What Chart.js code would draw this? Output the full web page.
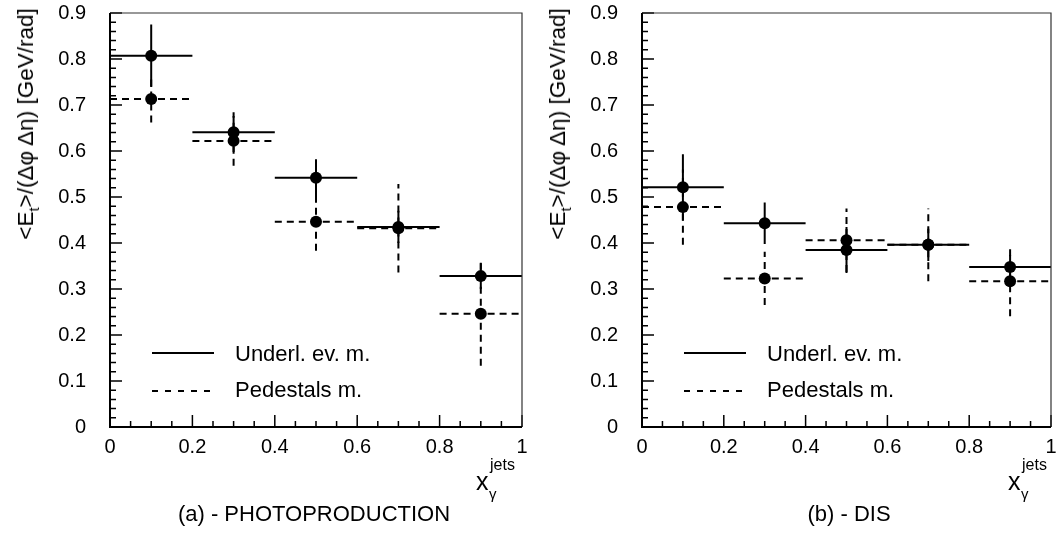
<!DOCTYPE html>
<html>
<head>
<meta charset="utf-8">
<script src="https://cdn.jsdelivr.net/npm/chart.js@4.4.1/dist/chart.umd.min.js"></script>
<style>
  body { margin: 0; background: #fff; font-family: "Liberation Sans", Arial, sans-serif; color: #000; }
  #wrap { position: relative; width: 1057px; height: 534px; overflow: hidden; }
  canvas { position: absolute; top: 0; }
  .ytitle { position: absolute; font-size: 22.5px; line-height: 1; white-space: nowrap;
            transform: translate(-50%, -50%) rotate(-90deg); }
  .ytitle sub { font-size: 15px; vertical-align: -6px; line-height: 1; }
  .t { position: absolute; line-height: 1; white-space: nowrap; }
  .caption { position: absolute; font-size: 22px; line-height: 1; white-space: nowrap; transform: translateX(-50%); }
</style>
</head>
<body>
<div id="wrap">
  <canvas id="photoChart" width="530" height="534" style="left:0"></canvas>
  <canvas id="disChart" width="527" height="534" style="left:530px"></canvas>

  <div class="ytitle" style="left:28px; top:124px">&lt;E<sub>t</sub>&gt;/(&Delta;&phi; &Delta;&eta;) [GeV/rad]</div>
  <div class="ytitle" style="left:560px; top:124px">&lt;E<sub>t</sub>&gt;/(&Delta;&phi; &Delta;&eta;) [GeV/rad]</div>

  <div class="t" style="left:476px; top:469px; font-size:25px">x</div>
  <div class="t" style="left:490px; top:457px; font-size:16px">jets</div>
  <div class="t" style="left:489px; top:486px; font-size:15px">&gamma;</div>

  <div class="t" style="left:1008px; top:469px; font-size:25px">x</div>
  <div class="t" style="left:1022px; top:457px; font-size:16px">jets</div>
  <div class="t" style="left:1021px; top:486px; font-size:15px">&gamma;</div>

  <div class="caption" style="left:314px; top:503px">(a) - PHOTOPRODUCTION</div>
  <div class="caption" style="left:849px; top:503px">(b) - DIS</div>
</div>

<script>
// bins in x_gamma^jets
const binLo = [0.0, 0.2, 0.4, 0.6, 0.8];
const binHi = [0.2, 0.4, 0.6, 0.8, 1.0];
const xMid = [0.1, 0.3, 0.5, 0.7, 0.9];

// (a) photoproduction
const uePhoto = [0.807, 0.641, 0.542, 0.435, 0.328];
const ueErrPhoto = [0.068, 0.043, 0.040, 0.035, 0.028];
const pedPhoto = [0.713, 0.622, 0.446, 0.432, 0.246];
const pedErrPhoto = [0.051, 0.054, 0.063, 0.096, 0.113];

// (b) DIS
const ueDis = [0.521, 0.443, 0.385, 0.396, 0.348];
const ueErrDis = [0.072, 0.045, 0.050, 0.035, 0.026];
const pedDis = [0.478, 0.323, 0.406, 0.396, 0.317];
const pedErrDis = [0.082, 0.058, 0.069, 0.079, 0.076];

const legendLabels = ['Underl. ev. m.', 'Pedestals m.'];

// axis ranges / tick steps
const yMax = 0.9, yStep = 0.1, yMinor = 0.02;
const xMax = 1, xStep = 0.2, xMinor = 0.05;

const FONT = '"Liberation Sans", Arial, sans-serif';
const DASH = [7, 5];

function markers(vals) {
  return vals.map((v, i) => ({ x: xMid[i], y: v }));
}

// horizontal bin-width bars, separated by gaps
function hBars(vals) {
  const pts = [];
  vals.forEach((v, i) => {
    pts.push({ x: binLo[i], y: v }, { x: binHi[i], y: v }, { x: binHi[i], y: null });
  });
  return pts;
}

// vertical error bars
function vBars(vals, errs) {
  const pts = [];
  vals.forEach((v, i) => {
    pts.push({ x: xMid[i], y: v - errs[i] }, { x: xMid[i], y: v + errs[i] }, { x: xMid[i], y: null });
  });
  return pts;
}

// frame plus inward ticks, like the paw style plot
const frameTicks = {
  id: 'frameTicks',
  afterDatasetsDraw(chart) {
    const { ctx, chartArea: a, scales: { x, y } } = chart;
    ctx.save();
    ctx.strokeStyle = '#000';
    ctx.lineWidth = 1.5;
    ctx.beginPath();
    const ny = Math.round(yMax / yMinor);
    for (let i = 0; i <= ny; i++) {
      const py = y.getPixelForValue(i * yMinor);
      const len = i % Math.round(yStep / yMinor) === 0 ? 12 : 6;
      ctx.moveTo(a.left, py);
      ctx.lineTo(a.left + len, py);
    }
    const nx = Math.round(xMax / xMinor);
    for (let i = 0; i <= nx; i++) {
      const px = x.getPixelForValue(i * xMinor);
      const len = i % Math.round(xStep / xMinor) === 0 ? 12 : 6;
      ctx.moveTo(px, a.bottom);
      ctx.lineTo(px, a.bottom - len);
    }
    ctx.stroke();

    // thin top / right
    ctx.lineWidth = 1.2;
    ctx.strokeStyle = '#333';
    ctx.beginPath();
    ctx.moveTo(a.left, a.top);
    ctx.lineTo(a.right, a.top);
    ctx.lineTo(a.right, a.bottom);
    ctx.stroke();

    // thicker left / bottom
    ctx.lineWidth = 2;
    ctx.strokeStyle = '#000';
    ctx.beginPath();
    ctx.moveTo(a.left, a.top);
    ctx.lineTo(a.left, a.bottom);
    ctx.lineTo(a.right, a.bottom);
    ctx.stroke();
    ctx.restore();
  }
};

// legend drawn inside the plot area
const inLegend = {
  id: 'inLegend',
  afterDatasetsDraw(chart) {
    const { ctx, chartArea: a } = chart;
    const rows = [353, 391];
    ctx.save();
    ctx.strokeStyle = '#000';
    ctx.lineWidth = 2;
    legendLabels.forEach((lbl, i) => {
      ctx.setLineDash(i === 0 ? [] : [6, 7]);
      ctx.beginPath();
      ctx.moveTo(a.left + 42, rows[i]);
      ctx.lineTo(a.left + 104, rows[i]);
      ctx.stroke();
    });
    ctx.setLineDash([]);
    ctx.fillStyle = '#000';
    ctx.font = '22px ' + FONT;
    ctx.textBaseline = 'alphabetic';
    ctx.fillText(legendLabels[0], a.left + 125, 361);
    ctx.fillText(legendLabels[1], a.left + 125, 397);
    ctx.restore();
  }
};

const fmt = v => String(Math.round(v * 100) / 100);

function makeChart(id, ue, ueErr, ped, pedErr, yWidth, padRight) {
  const lineDs = (data, dashed) => ({
    data: data,
    showLine: true,
    pointRadius: 0,
    borderColor: '#000',
    borderWidth: 2,
    borderDash: dashed ? DASH : [],
    spanGaps: false,
    order: 1
  });
  return new Chart(document.getElementById(id), {
    type: 'scatter',
    data: {
      datasets: [
        { data: markers(ue), pointRadius: 6, pointBorderWidth: 0, backgroundColor: '#000', order: 0 },
        { data: markers(ped), pointRadius: 6, pointBorderWidth: 0, backgroundColor: '#000', order: 0 },
        lineDs(hBars(ue), false),
        lineDs(vBars(ue, ueErr), false),
        lineDs(hBars(ped), true),
        lineDs(vBars(ped, pedErr), true)
      ]
    },
    options: {
      responsive: false,
      animation: false,
      events: [],
      layout: { padding: { top: 13, right: padRight, left: 0, bottom: 0 } },
      plugins: { legend: { display: false }, tooltip: { enabled: false } },
      scales: {
        x: {
          type: 'linear', min: 0, max: xMax,
          grid: { display: false, drawTicks: false },
          border: { display: false },
          ticks: { stepSize: xStep, padding: 8, color: '#000', font: { family: FONT, size: 20 }, callback: fmt },
          afterFit(s) { s.height = 107; s.paddingLeft = 0; s.paddingRight = 0; }
        },
        y: {
          type: 'linear', min: 0, max: yMax,
          grid: { display: false, drawTicks: false },
          border: { display: false },
          ticks: { stepSize: yStep, padding: 24, color: '#000', font: { family: FONT, size: 20 }, callback: fmt },
          afterFit(s) { s.width = yWidth; s.paddingTop = 0; s.paddingBottom = 0; }
        }
      }
    },
    plugins: [frameTicks, inLegend]
  });
}

makeChart('photoChart', uePhoto, ueErrPhoto, pedPhoto, pedErrPhoto, 110, 8);
makeChart('disChart', ueDis, ueErrDis, pedDis, pedErrDis, 112, 3);
</script>
</body>
</html>
